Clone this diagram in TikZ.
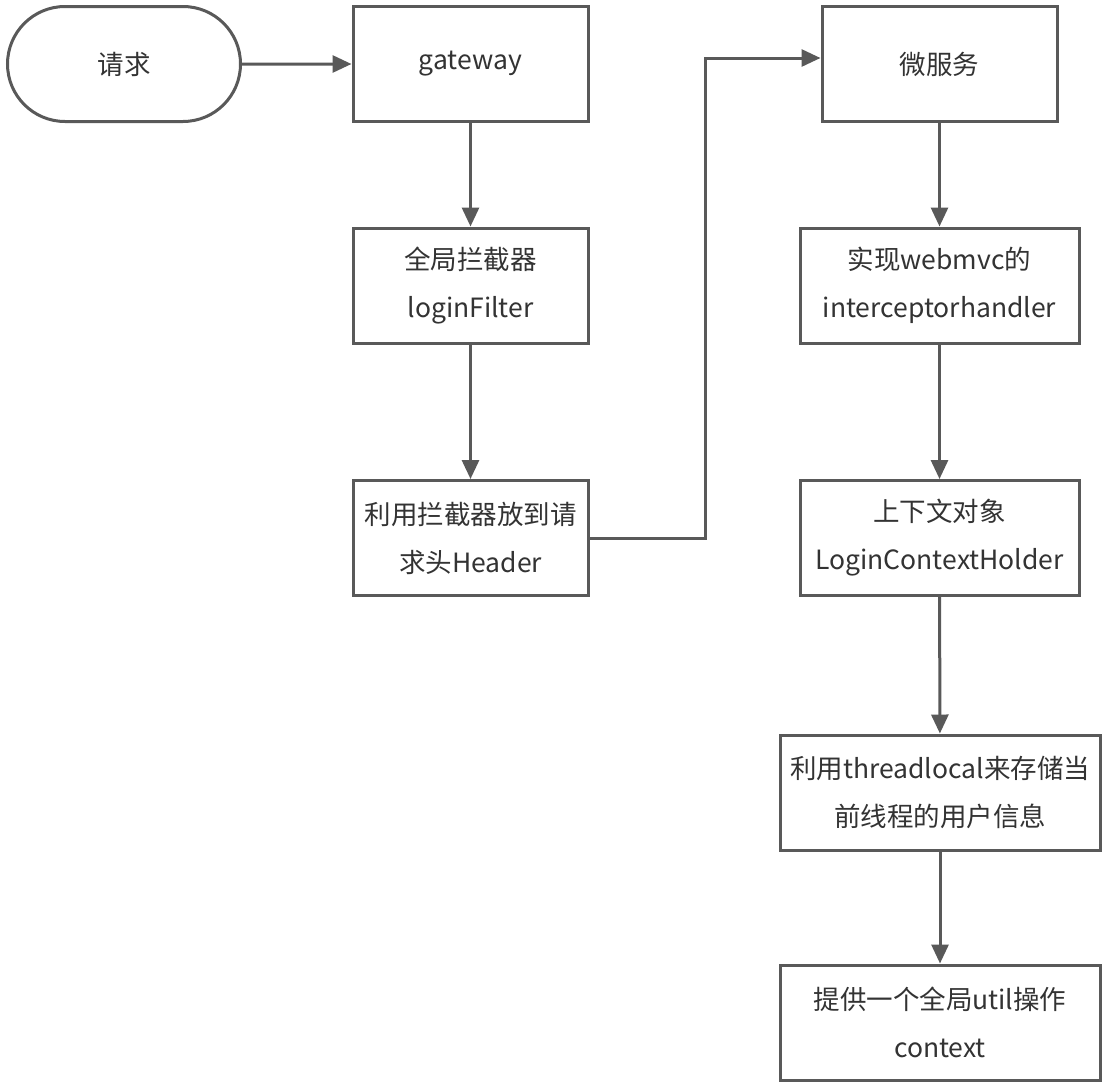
\documentclass[tikz,border=0pt]{standalone}
\usepackage{fontspec}
\setmainfont{Noto Sans CJK SC}
\usetikzlibrary{arrows.meta,positioning,shapes.misc}

\definecolor{edge}{HTML}{595959}
\definecolor{ink}{HTML}{333333}

\begin{document}
\begin{tikzpicture}[
  x=1pt,y=-1pt,
  box/.style={rectangle,draw=edge,line width=3pt,fill=white,text=ink,
    align=center,inner sep=0pt,minimum height=115pt,
    font=\fontsize{26.5}{48}\selectfont},
  term/.style={box,rounded rectangle},
  arc/.style={-{Triangle[length=19pt,width=17pt]},draw=edge,line width=3pt}
]
  \useasboundingbox (0,0) rectangle (1110,1087);
  \node[term,minimum width=233pt] (req) at (124,64) {请求};
  \node[box,minimum width=235pt] (gw) at (470.5,64) {gateway};
  \node[box,minimum width=235pt] (filt) at (470.5,285.5) {全局拦截器\\loginFilter};
  \node[box,minimum width=235pt] (hdr) at (470.5,538) {利用拦截器放到请\\求头Header};
  \node[box,minimum width=235pt] (ms) at (939.5,64) {微服务};
  \node[box,minimum width=279pt] (intc) at (939.5,285.5) {实现webmvc的\\interceptorhandler};
  \node[box,minimum width=279pt] (ctx) at (939.5,538) {上下文对象\\LoginContextHolder};
  \node[box,minimum width=320pt] (tl) at (940,792.5) {利用threadlocal来存储当\\前线程的用户信息};
  \node[box,minimum width=320pt] (util) at (940,1022.5) {提供一个全局util操作\\context};
  \coordinate (turn) at (705,538);
  \draw[arc] (req) -- (gw);
  \draw[arc] (gw) -- (filt);
  \draw[arc] (filt) -- (hdr);
  \draw[arc] (hdr.east) -- (turn) |- ([yshift=6pt]ms.west);
  \draw[arc] (ms) -- (intc);
  \draw[arc] (intc) -- (ctx);
  \draw[arc] (ctx) -- (tl);
  \draw[arc] (tl) -- (util);
\end{tikzpicture}
\end{document}
